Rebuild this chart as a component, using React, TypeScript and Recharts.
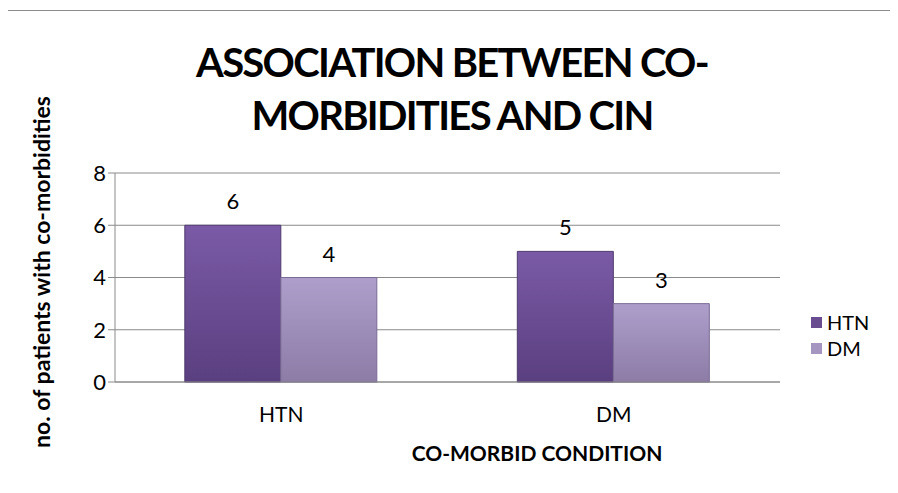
import React from "react"
import { BarChart, Bar, XAxis, YAxis, CartesianGrid, LabelList, Label } from "recharts"

const conditions = ["HTN", "DM"]
const htnValues = [6, 5]
const dmValues = [4, 3]
const yTicks = [0, 2, 4, 6, 8]
const seriesNames = ["HTN", "DM"]

const data = conditions.map((c, i) => ({ name: c, HTN: htnValues[i], DM: dmValues[i] }))

const FONT = "Lato, 'Open Sans', sans-serif"
const swatch = ["#6a4c90", "#a596c1"]

export default function App() {
  return (
    <div style={{ position: "relative", width: 898, height: 493, margin: -8, background: "#fff", overflow: "hidden" }}>
      <div style={{ position: "absolute", left: 0, top: 36, width: 904, textAlign: "center", fontFamily: FONT, fontWeight: 700, fontSize: 40, letterSpacing: -1.7, lineHeight: "53px", color: "#000" }}>
        ASSOCIATION BETWEEN CO-<br />MORBIDITIES AND CIN
      </div>
      <div style={{ position: "absolute", left: 0, top: 0 }}>
        <BarChart width={898} height={493} data={data} margin={{ top: 173, right: 118, bottom: 0, left: 85 }} barCategoryGap="21%" barGap={0}>
          <defs>
            <linearGradient id="gHtn" x1="0" x2="0" y1="0" y2="1">
              <stop offset="0%" stopColor="#7a5aa6" />
              <stop offset="100%" stopColor="#5a3f80" />
            </linearGradient>
            <linearGradient id="gDm" x1="0" x2="0" y1="0" y2="1">
              <stop offset="0%" stopColor="#ad9ecb" />
              <stop offset="100%" stopColor="#8c7ca6" />
            </linearGradient>
          </defs>
          <CartesianGrid vertical={false} stroke="#8a8a8a" />
          <XAxis dataKey="name" axisLine={{ stroke: "#8a8a8a" }} tickLine={false} tick={{ fill: "#000", fontSize: 21, fontFamily: FONT }} dy={17} height={111}>
            <Label content={() => (
              <text x={537} y={452} textAnchor="middle" dominantBaseline="central" fontFamily={FONT} fontWeight={700} fontSize={21} fill="#000">CO-MORBID CONDITION</text>
            )} />
          </XAxis>
          <YAxis domain={[0, 8]} ticks={yTicks} interval={0} width={30} axisLine={{ stroke: "#8a8a8a" }} tickLine={{ stroke: "#8a8a8a" }} tickSize={7} tick={{ fill: "#000", fontSize: 22, fontFamily: FONT }}>
            <Label content={() => (
              <text x={41} y={272} transform="rotate(-90 41 272)" textAnchor="middle" dominantBaseline="central" fontFamily={FONT} fontWeight={700} fontSize={23} fill="#000">no. of patients with co-morbidities</text>
            )} />
          </YAxis>
          <Bar dataKey="HTN" fill="url(#gHtn)" stroke="#4f3a6e" strokeWidth={1} isAnimationActive={false}>
            <LabelList dataKey="HTN" position="top" offset={16} fill="#000" fontSize={22} fontFamily={FONT} />
          </Bar>
          <Bar dataKey="DM" fill="url(#gDm)" stroke="#7a6b94" strokeWidth={1} isAnimationActive={false}>
            <LabelList dataKey="DM" position="top" offset={16} fill="#000" fontSize={22} fontFamily={FONT} />
          </Bar>
        </BarChart>
      </div>
      <div style={{ position: "absolute", left: 811, top: 309, fontFamily: FONT, fontSize: 20, color: "#000" }}>
        {seriesNames.map((n, i) => (
          <div key={n} style={{ display: "flex", alignItems: "center", height: 26 }}>
            <span style={{ width: 11, height: 11, background: swatch[i], marginRight: 5, display: "inline-block" }} />
            {n}
          </div>
        ))}
      </div>
      <svg width={898} height={493} style={{ position: "absolute", left: 0, top: 0, pointerEvents: "none" }}>
        <rect x={7.5} y={10.5} width={889} height={490} fill="none" stroke="#8c8c8c" />
      </svg>
    </div>
  )
}
